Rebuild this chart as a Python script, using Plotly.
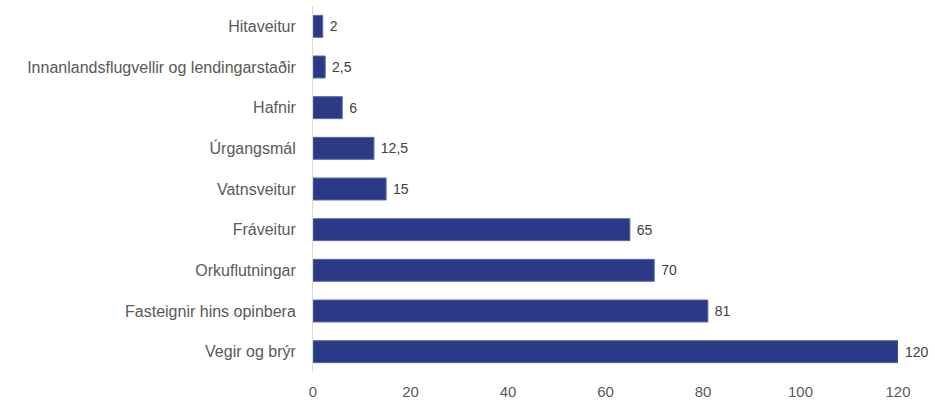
import plotly.graph_objects as go

categories = ["Hitaveitur", "Innanlandsflugvellir og lendingarstaðir", "Hafnir",
              "Úrgangsmál", "Vatnsveitur", "Fráveitur", "Orkuflutningar",
              "Fasteignir hins opinbera", "Vegir og brýr"]
values = [2, 2.5, 6, 12.5, 15, 65, 70, 81, 120]
tick_vals = [0, 20, 40, 60, 80, 100, 120]

labels = [f"{v:g}".replace(".", ",") for v in values]

fig = go.Figure(go.Bar(
    y=categories, x=values, orientation="h",
    marker=dict(color="#2b3a86", line=dict(color="#5a68a8", width=1)),
    text=labels, texttemplate=" %{text}", textposition="outside", cliponaxis=False,
    textfont=dict(family="Liberation Sans, Arial", size=14, color="#404040"),
))

fig.update_layout(
    width=935, height=403,
    margin=dict(l=313, r=37, t=6, b=31),
    plot_bgcolor="white", paper_bgcolor="white",
    bargap=0.46, showlegend=False,
    font=dict(family="Liberation Sans, Arial", size=16, color="#595959"),
)
fig.update_xaxes(range=[0, 120], tickvals=tick_vals, showgrid=False,
                 zeroline=False, showline=False, ticks="", automargin=False,
                 ticklabelstandoff=9,
                 tickfont=dict(size=15, color="#595959"))
fig.update_yaxes(autorange="reversed", showgrid=False, zeroline=False,
                 showline=True, linecolor="#d9d9d9", linewidth=1, ticks="",
                 automargin=False, ticklabelstandoff=13,
                 tickfont=dict(size=16, color="#595959"))

fig.write_html("out.html", config={"displayModeBar": False},
               post_script="document.body.style.margin='0';")
